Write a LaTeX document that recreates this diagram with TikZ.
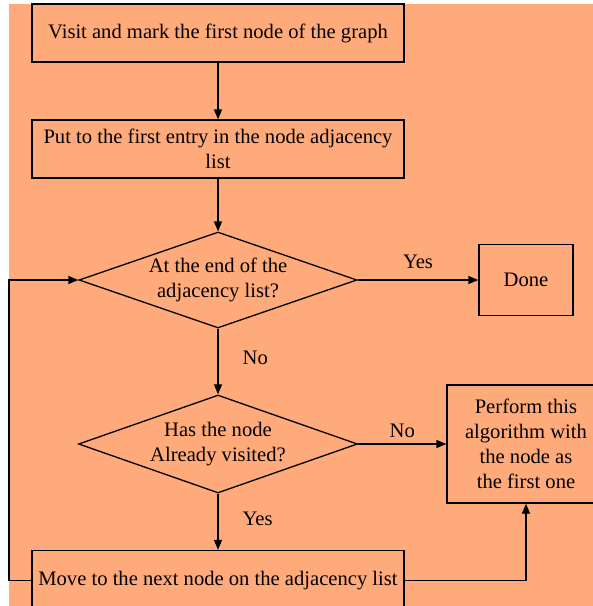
\documentclass[tikz,border=0pt]{standalone}
\usepackage{fontspec}
\setmainfont{Liberation Serif}
\usetikzlibrary{shapes.geometric,arrows.meta}
\definecolor{peach}{RGB}{255,170,122}

\begin{document}
\begin{tikzpicture}[x=1pt,y=-1pt,
    every node/.style={font=\fontsize{20.6}{25}\selectfont},
    stepbox/.style={draw,line width=1.3pt,rectangle,align=center,inner sep=2pt},
    query/.style={draw,line width=1.3pt,diamond,aspect=2.9,align=center,inner sep=0pt},
    flow/.style={line width=1.3pt,-{Triangle[length=10pt,width=8pt]}},
    tag/.style={inner sep=2pt}]
    \useasboundingbox (0,0) rectangle (593,606);
    \clip (0,0) rectangle (593,606);
    \fill[peach] (9,4) rectangle (593,606);
    % boxes and questions
    \node[stepbox,minimum width=372pt,minimum height=58pt] (visit) at (218,33) {Visit and mark the first node of the graph};
    \node[stepbox,minimum width=372pt,minimum height=58pt] (entry) at (218,149) {Put to the first entry in the node adjacency\\list};
    \node[query,minimum width=278pt,minimum height=96pt] (atend) at (218,280) {At the end of the\\adjacency list?};
    \node[stepbox,minimum width=94pt,minimum height=71pt] (done) at (526,280) {Done};
    \node[query,minimum width=279pt,minimum height=98pt] (seen) at (218,444) {Has the node\\Already visited?};
    \node[stepbox,minimum width=158pt,minimum height=118pt] (recur) at (526,444) {Perform this\\algorithm with\\the node as\\the first one};
    \node[stepbox,minimum width=372pt,minimum height=60pt] (next) at (218,580.5) {Move to the next node on the adjacency list};
    \coordinate (back) at (9,580.5);
    % connectors
    \draw[flow] (visit) -- (entry);
    \draw[flow] (entry) -- (atend);
    \draw[flow] (atend) -- node[tag,above=9pt]{Yes} (done);
    \draw[flow] (atend) -- node[tag,pos=0.45,right=22pt]{No} (seen);
    \draw[flow] (seen) -- node[tag,above=4pt]{No} (recur);
    \draw[flow] (seen) -- node[tag,pos=0.44,right=22pt]{Yes} (next);
    \draw[flow] (next) -| (recur);
    \draw[flow] (next.west) -- (back) |- (atend.west);
\end{tikzpicture}
\end{document}
